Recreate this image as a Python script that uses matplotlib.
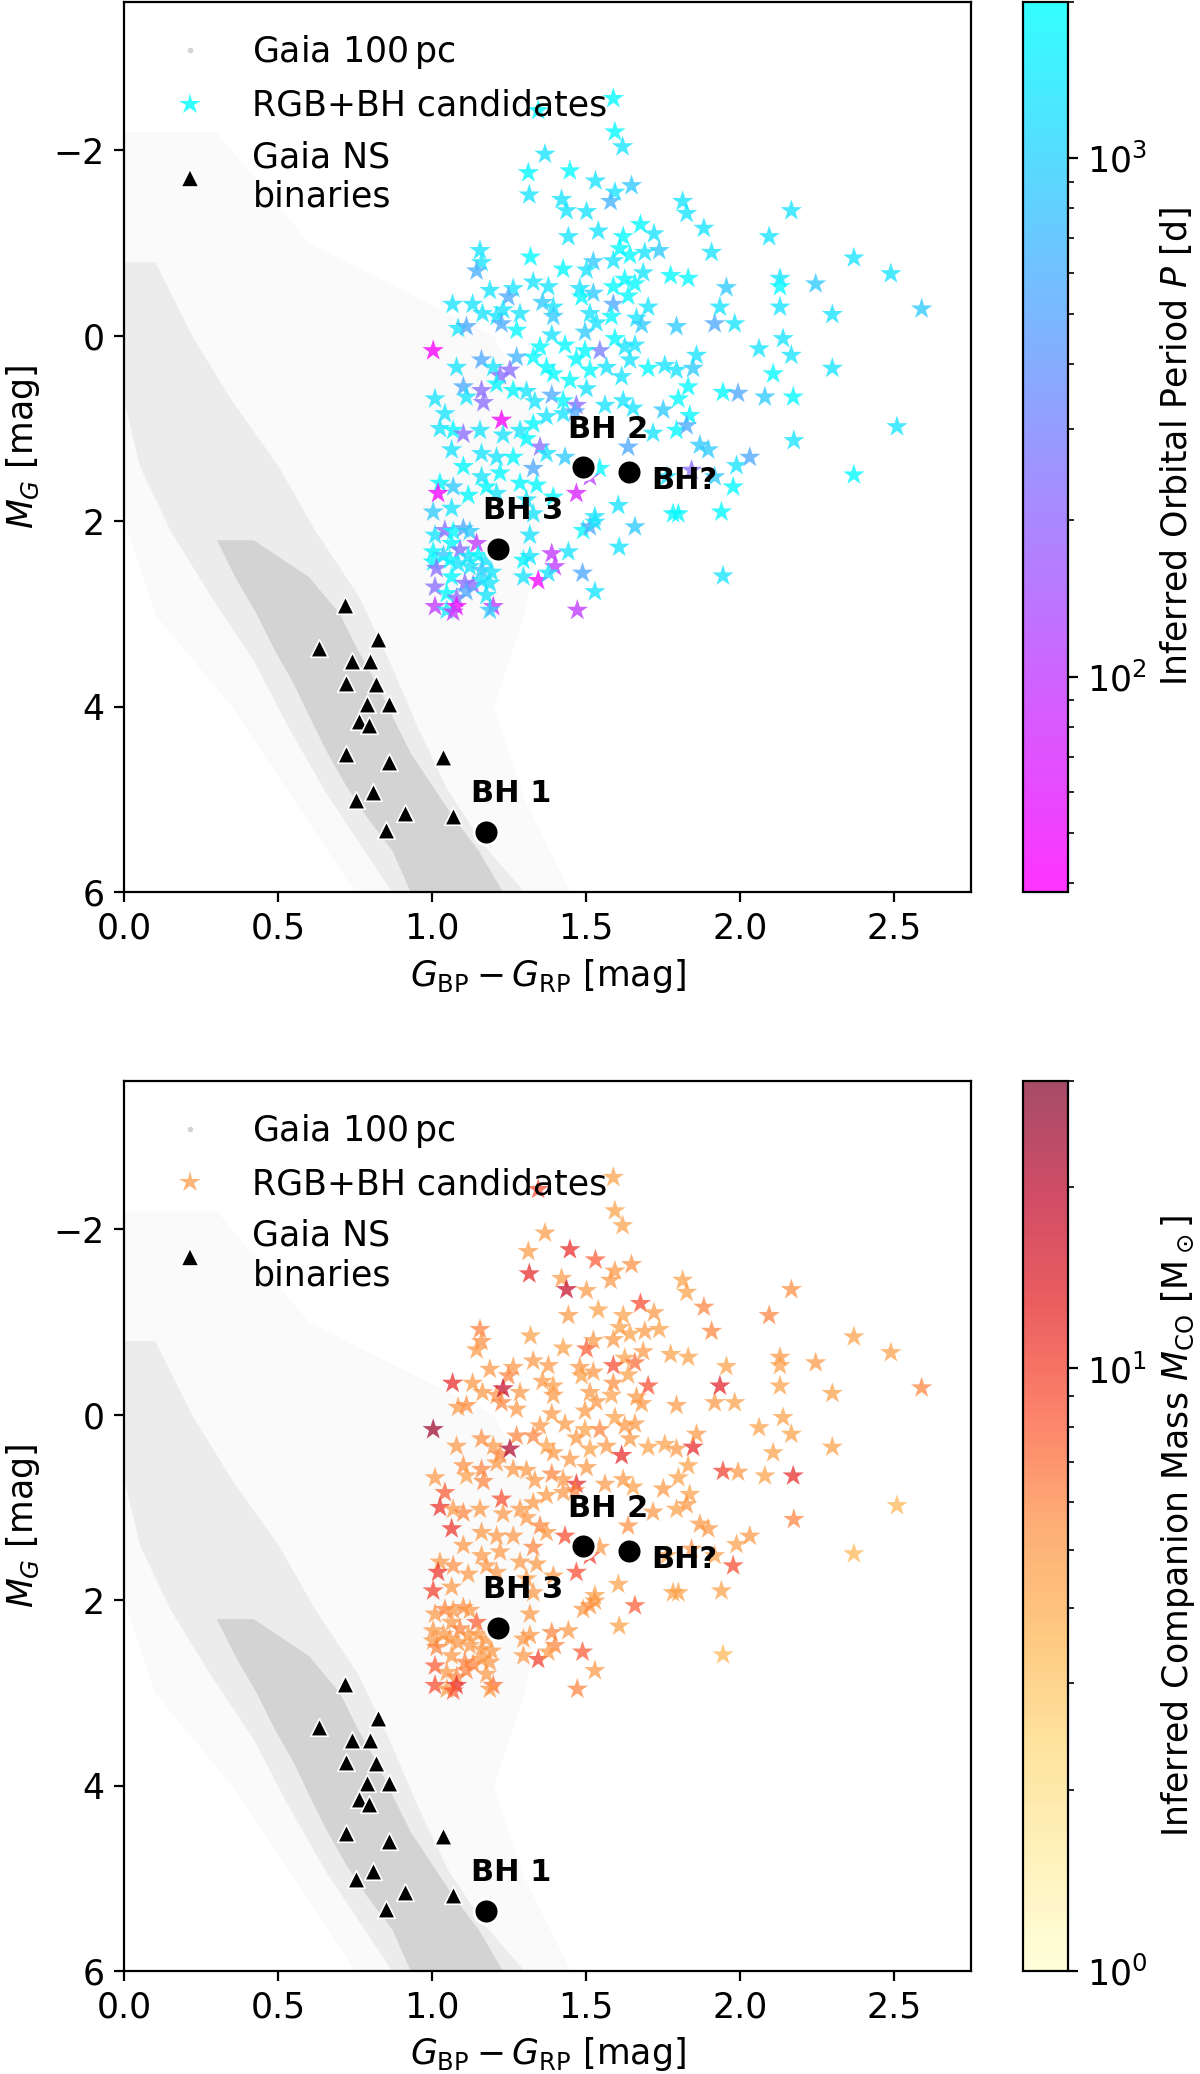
"""
Colour-magnitude diagram of RGB+BH candidates over the Gaia 100 pc sample,
coloured by inferred orbital period (top) and companion mass (bottom).
"""
import matplotlib
matplotlib.use('Agg')
import matplotlib.pyplot as plt
from matplotlib.colors import LogNorm
from matplotlib.lines import Line2D

sparse_mg = [-2.2, -1.0, 0.0, 1.0, 2.0, 3.0, 4.0, 5.0, 6.0]
sparse_left = [0.0, 0.0, 0.0, 0.0, 0.0, 0.1, 0.35, 0.55, 0.75]
sparse_right = [0.3, 0.6, 1.2, 1.35, 1.35, 1.3, 1.2, 1.3, 1.45]

halo_mg = [-0.8, 0.0, 0.7, 1.4, 2.1, 2.8, 3.5, 4.2, 4.9, 5.5, 6.0]
halo_left = [0.0, 0.0, 0.0, 0.05, 0.15, 0.28, 0.42, 0.53, 0.65, 0.77, 0.87]
halo_right = [0.10, 0.22, 0.35, 0.50, 0.62, 0.76, 0.86, 0.95, 1.05, 1.17, 1.30]

band_mg = [2.2, 2.6, 3.0, 3.4, 3.75, 4.1, 4.5, 4.85, 5.2, 5.55, 6.0]
band_left = [0.30, 0.36, 0.43, 0.49, 0.55, 0.60, 0.66, 0.72, 0.79, 0.87, 0.93]
band_right = [0.42, 0.60, 0.70, 0.76, 0.82, 0.87, 0.93, 1.00, 1.07, 1.15, 1.23]

# Gaia NS binaries
ns_bprp = [0.717, 0.826, 0.634, 0.739, 0.799, 0.720, 0.818, 0.790, 0.859, 0.764,
           0.795, 0.720, 0.859, 1.035, 0.807, 0.755, 0.912, 1.069, 0.851]
ns_mg = [2.90, 3.27, 3.37, 3.51, 3.51, 3.75, 3.76, 3.97, 3.97, 4.15,
         4.20, 4.51, 4.60, 4.54, 4.92, 5.01, 5.15, 5.18, 5.33]

# known black holes
bh_names = ['BH 1', 'BH 2', 'BH 3', 'BH?']
bh_bprp = [1.175, 1.49, 1.215, 1.64]
bh_mg = [5.35, 1.42, 2.30, 1.47]

# RGB+BH candidates
cand_bprp = [
    1.589, 1.345, 1.594, 1.619, 1.367, 1.313, 1.448, 1.531, 1.648, 1.316,
    1.594, 1.580, 1.421, 1.437, 1.502, 1.814, 1.827, 2.167, 1.540, 1.443,
    1.677, 1.721, 1.883, 2.095, 1.621, 1.156, 1.161, 1.145, 1.320, 1.691,
    1.738, 1.610, 1.643, 1.589, 1.524, 1.502, 1.426, 1.908, 1.775, 1.832,
    1.686, 1.626, 1.659, 1.589, 1.637, 1.480, 1.524, 1.589, 1.702, 1.329,
    1.378, 1.394, 1.359, 1.264, 1.248, 1.188, 1.067, 1.132, 1.164, 1.210,
    1.231, 1.286, 1.394, 1.486, 1.513, 1.583, 1.664, 1.681, 1.794, 1.918,
    1.983, 1.956, 1.935, 2.130, 2.130, 2.130, 2.246, 1.085, 1.112, 1.226,
    1.275, 1.389, 1.497, 1.534, 1.432, 1.351, 1.329, 1.594, 1.626, 1.659,
    1.545, 1.497, 1.469, 1.275, 1.161, 1.080, 1.004, 1.199, 1.221, 1.253,
    1.372, 1.394, 1.448, 1.513, 1.567, 1.616, 1.643, 1.702, 1.756, 1.794,
    1.848, 1.859, 2.062, 2.140, 2.167, 2.108, 1.102, 1.161, 1.167, 1.010,
    1.112, 1.210, 1.264, 1.307, 1.334, 1.389, 1.426, 1.469, 1.502, 1.562,
    1.621, 1.653, 1.751, 1.800, 1.832, 1.945, 1.994, 2.081, 2.173, 1.042,
    1.026, 1.069, 1.102, 1.156, 1.226, 1.231, 1.286, 1.329, 1.372, 1.426,
    1.464, 1.351, 1.307, 1.372, 1.432, 1.637, 1.718, 1.794, 1.837, 1.827,
    1.870, 1.897, 1.989, 2.032, 2.175, 1.918, 1.978, 1.064, 1.102, 1.161,
    1.210, 1.264, 1.329, 1.161, 1.221, 1.286, 1.340, 1.394, 1.026, 1.069,
    1.020, 1.118, 1.177, 1.469, 1.513, 1.545, 1.762, 1.843, 1.605, 1.783,
    1.940, 1.004, 1.064, 1.329, 1.529, 1.210, 1.307, 1.800,
    1.010, 1.042, 1.069, 1.102, 1.123, 1.064, 1.145, 1.004, 1.037, 1.091,
    1.118, 1.150, 1.177, 1.004, 1.015, 1.058, 1.085, 1.123, 1.161, 1.194,
    1.064, 1.107, 1.134, 1.161, 1.188, 1.010, 1.048, 1.080, 1.112, 1.177,
    1.010, 1.048, 1.080, 1.069, 1.199, 1.188, 1.318, 1.297, 1.318, 1.297,
    1.345, 1.389, 1.399, 1.378, 1.443, 1.491, 1.513, 1.529, 1.489, 1.529,
    1.472, 1.608, 1.659, 1.945,
    2.37, 2.49, 2.59, 2.30, 2.30, 2.51, 2.37,
]
cand_mg = [
    -2.56, -2.43, -2.20, -2.04, -1.96, -1.76, -1.78, -1.67, -1.62, -1.52,
    -1.55, -1.45, -1.47, -1.35, -1.34, -1.45, -1.32, -1.35, -1.13, -1.07,
    -1.20, -1.10, -1.16, -1.07, -1.07, -0.92, -0.79, -0.70, -0.85, -0.90,
    -0.92, -0.94, -0.87, -0.81, -0.80, -0.71, -0.72, -0.90, -0.65, -0.62,
    -0.68, -0.61, -0.56, -0.53, -0.43, -0.51, -0.46, -0.34, -0.31, -0.58,
    -0.53, -0.31, -0.36, -0.51, -0.42, -0.49, -0.34, -0.34, -0.24, -0.21,
    -0.28, -0.24, -0.21, -0.42, -0.24, -0.21, -0.19, -0.12, -0.10, -0.13,
    -0.13, -0.52, -0.31, -0.62, -0.53, -0.31, -0.56, -0.08, -0.10, -0.13,
    -0.06, -0.01, -0.04, -0.14, 0.10, 0.12, 0.23, 0.03, 0.12, 0.10,
    0.16, 0.16, 0.25, 0.23, 0.26, 0.34, 0.16, 0.34, 0.43, 0.37,
    0.34, 0.41, 0.48, 0.37, 0.34, 0.44, 0.26, 0.35, 0.32, 0.37,
    0.35, 0.21, 0.14, 0.03, 0.21, 0.41, 0.55, 0.59, 0.72, 0.68,
    0.66, 0.52, 0.59, 0.60, 0.71, 0.64, 0.70, 0.75, 0.57, 0.75,
    0.70, 0.78, 0.80, 0.68, 0.55, 0.61, 0.62, 0.66, 0.66, 0.84,
    1.00, 1.02, 1.06, 1.02, 0.91, 1.07, 1.02, 0.95, 0.87, 0.84,
    0.82, 1.20, 1.11, 1.27, 1.31, 1.20, 1.05, 1.02, 0.86, 0.97,
    1.18, 1.23, 1.40, 1.31, 1.13, 1.52, 1.63, 1.23, 1.41, 1.27,
    1.31, 1.31, 1.43, 1.52, 1.48, 1.59, 1.61, 1.74, 1.59, 1.63,
    1.70, 1.72, 1.63, 1.70, 1.52, 1.43, 1.52, 1.45, 1.83, 1.92,
    1.90, 1.90, 1.86, 1.92, 1.95, 1.70, 1.77, 1.92,
    2.15, 2.10, 2.11, 2.08, 2.11, 2.24, 2.24, 2.33, 2.37, 2.31,
    2.38, 2.37, 2.42, 2.44, 2.51, 2.42, 2.46, 2.49, 2.53, 2.55,
    2.60, 2.67, 2.69, 2.64, 2.67, 2.71, 2.78, 2.83, 2.76, 2.80,
    2.92, 2.96, 2.92, 2.98, 2.92, 2.96, 2.15, 2.42, 2.38, 2.60,
    2.64, 2.35, 2.49, 2.56, 2.33, 2.10, 2.06, 2.01, 2.56, 2.76,
    2.96, 2.28, 2.06, 2.59,
    -0.84, -0.67, -0.29, -0.23, 0.35, 0.98, 1.50,
]
# inferred orbital period [d]
cand_period = [
    1800, 1800, 1800, 1300, 1300, 1800, 1800, 1300, 900, 1300,
    1300, 650, 1300, 1300, 1300, 1300, 1300, 1300, 1300, 1300,
    1800, 1300, 1300, 1300, 1800, 1300, 1300, 600, 1800, 1300,
    900, 1800, 1800, 1300, 900, 1300, 1800, 1300, 1800, 1800,
    1300, 1800, 1800, 1800, 1800, 1300, 900, 550, 1300, 1300,
    1300, 1300, 900, 1300, 550, 1300, 1300, 1300, 1300, 1300,
    1300, 1300, 900, 1800, 1300, 1800, 1300, 900, 900, 550,
    1300, 900, 1300, 1300, 1800, 1300, 900, 1300, 550, 550,
    1800, 1300, 900, 1300, 1800, 1800, 1800, 1800, 1300, 1300,
    300, 1800, 1800, 650, 550, 1300, 42, 1300, 220, 220,
    1800, 1800, 1800, 1800, 1300, 1300, 1300, 1800, 1300, 1300,
    900, 1300, 1300, 1300, 1300, 1800, 550, 220, 220, 1300,
    1300, 1800, 1800, 1300, 1300, 550, 1800, 220, 1300, 1300,
    1300, 1300, 900, 1800, 1800, 1800, 550, 900, 1800, 1300,
    1300, 1800, 220, 1300, 45, 1300, 1300, 1800, 1300, 1300,
    550, 220, 1800, 1300, 900, 550, 1300, 1800, 1800, 550,
    900, 900, 1300, 550, 1300, 900, 1800, 1300, 1800, 1300,
    1300, 1800, 550, 1300, 1800, 1800, 1800, 1800, 1800, 900,
    45, 1800, 1800, 70, 110, 1800, 1300, 220, 1300, 1800,
    1800, 900, 1300, 1300, 1300, 1300, 1300, 1800,
    1300, 220, 1800, 550, 900, 1800, 100, 1800, 900, 220,
    1300, 1800, 1300, 1800, 220, 1800, 1300, 1300, 900, 1300,
    1800, 220, 220, 1300, 1300, 220, 1800, 220, 550, 1300,
    100, 1300, 45, 100, 100, 900, 1300, 1800, 1300, 1300,
    45, 100, 100, 1300, 1300, 1800, 550, 1300, 550, 1300,
    100, 1300, 900, 1300,
    1300, 1300, 900, 1300, 1300, 1300, 1800,
]
# inferred companion mass [Msun]
cand_mass = [
    4.5, 9, 4.5, 4.5, 4.8, 4.8, 12, 8, 5.5, 12,
    5, 5, 4.8, 18, 4.8, 4.5, 4.5, 5.5, 4.5, 5,
    9, 5, 6, 6, 4.5, 6, 5.5, 5, 4.5, 5,
    4.5, 4.5, 4.5, 5, 5, 8, 4.5, 6, 4.5, 4.5,
    5, 4.5, 7, 9, 4.5, 5, 5, 5.5, 9, 5,
    5, 4.8, 5, 5, 6, 5, 12, 5, 5, 5.5,
    18, 5, 5, 4.5, 5, 4.5, 5, 5, 4.8, 5,
    4.5, 4.5, 13, 5, 4.5, 4.5, 5, 5, 5.5, 6,
    5, 5, 5, 5, 5, 5, 6, 4.5, 5, 5,
    6, 4.5, 5, 6, 5.5, 5, 25, 5, 6, 22,
    4.5, 5, 5, 4.5, 5, 12, 5, 4.5, 4.5, 5,
    12, 5, 4.5, 4.5, 4.5, 4.5, 5.5, 6, 6, 5,
    4.5, 5, 5, 5, 5, 6, 5, 12, 5, 5,
    5, 4.5, 5, 4.5, 4.5, 10, 5, 4.5, 12, 8,
    11, 5, 6, 5, 9, 5, 5, 5, 5, 5,
    6, 6, 5, 5, 9, 5.5, 5, 4.5, 4.5, 5,
    5, 5, 4.5, 5, 6, 4.5, 9, 11, 5, 5,
    5, 5, 6, 5, 5, 5, 5, 5, 5, 5.5,
    11, 5, 5, 9, 10, 5, 4.5, 5.5, 4.5, 4.5,
    4.5, 10, 5, 5, 4.5, 5, 5, 4.5,
    5, 6, 5, 5.5, 5, 5, 8, 5, 5, 6,
    5, 5, 5, 5, 6, 5, 5, 5, 5, 5,
    5, 6, 6, 5, 5, 8, 5, 6, 6, 5,
    9, 5, 12, 8, 7, 5, 5, 5, 5, 5,
    10, 6, 6, 5, 5, 5, 5.5, 5, 8, 5,
    6, 4.5, 8, 3.5,
    4.5, 4.5, 6, 4.5, 4.5, 3.5, 3.5,
]

plt.rcParams['font.size'] = 12.5


def draw_panel(fig, ax_rect, cax_rect, values, cmap, norm, alpha, legend_value, cbar_label):
    ax = fig.add_axes(ax_rect)
    cax = fig.add_axes(cax_rect)

    ax.fill_betweenx(sparse_mg, sparse_left, sparse_right, color='#fafafa', lw=0, zorder=0)
    ax.fill_betweenx(halo_mg, halo_left, halo_right, color='#ececec', lw=0, zorder=0.5)
    ax.fill_betweenx(band_mg, band_left, band_right, color='#d3d3d3', lw=0, zorder=1)

    ax.scatter(ns_bprp, ns_mg, marker='^', s=40, c='k', edgecolors='w', linewidths=0.6, zorder=3)
    sc = ax.scatter(cand_bprp, cand_mg, marker='*', s=65, c=values, cmap=cmap, norm=norm,
                    alpha=alpha, linewidths=0, zorder=2)
    ax.scatter(bh_bprp, bh_mg, s=80, c='k', edgecolors='w', linewidths=1.0, zorder=4)

    for name, x, y in zip(bh_names, bh_bprp, bh_mg):
        if name == 'BH?':
            ax.annotate(name, (x, y), xytext=(8, -3), textcoords='offset points',
                        ha='left', va='center', fontsize=11, fontweight='bold', zorder=5)
        else:
            ax.annotate(name, (x, y), xytext=(-5.5, 8.5), textcoords='offset points',
                        ha='left', va='bottom', fontsize=11, fontweight='bold', zorder=5)

    ax.set_xlim(0, 2.75)
    ax.set_ylim(6, -3.6)
    ax.set_xticks([0.0, 0.5, 1.0, 1.5, 2.0, 2.5])
    ax.set_yticks([-2, 0, 2, 4, 6])
    ax.set_xlabel(r'$G_{\rm BP} - G_{\rm RP}$ [mag]')
    ax.set_ylabel(r'$M_G$ [mag]')

    handles = [
        Line2D([], [], ls='none', marker='.', ms=2, color='#d3d3d3'),
        Line2D([], [], ls='none', marker='*', ms=8, color=cmap(norm(legend_value)),
               alpha=alpha, mew=0),
        Line2D([], [], ls='none', marker='^', ms=6.3, color='k', mec='w', mew=0.6),
    ]
    labels = [r'Gaia 100$\,$pc', 'RGB+BH candidates', 'Gaia NS\nbinaries']
    ax.legend(handles, labels, loc='upper left', frameon=False)

    cb = fig.colorbar(sc, cax=cax)
    cb.set_label(cbar_label)
    return ax


fig = plt.figure(figsize=(6.0, 10.37), dpi=200)

draw_panel(fig, [0.1033, 0.5699, 0.7058, 0.4291], [0.8525, 0.5699, 0.0375, 0.4291],
           cand_period, plt.get_cmap('cool_r'), LogNorm(vmin=38.4, vmax=2000), 0.8, 2000,
           r'Inferred Orbital Period $P$ [d]')
draw_panel(fig, [0.1033, 0.0497, 0.7058, 0.4291], [0.8525, 0.0497, 0.0375, 0.4291],
           cand_mass, plt.get_cmap('YlOrRd'), LogNorm(vmin=1, vmax=30), 0.7, 5,
           r'Inferred Companion Mass $M_{\rm CO}$ [M$_\odot$]')

fig.savefig('out.png', dpi=200)
